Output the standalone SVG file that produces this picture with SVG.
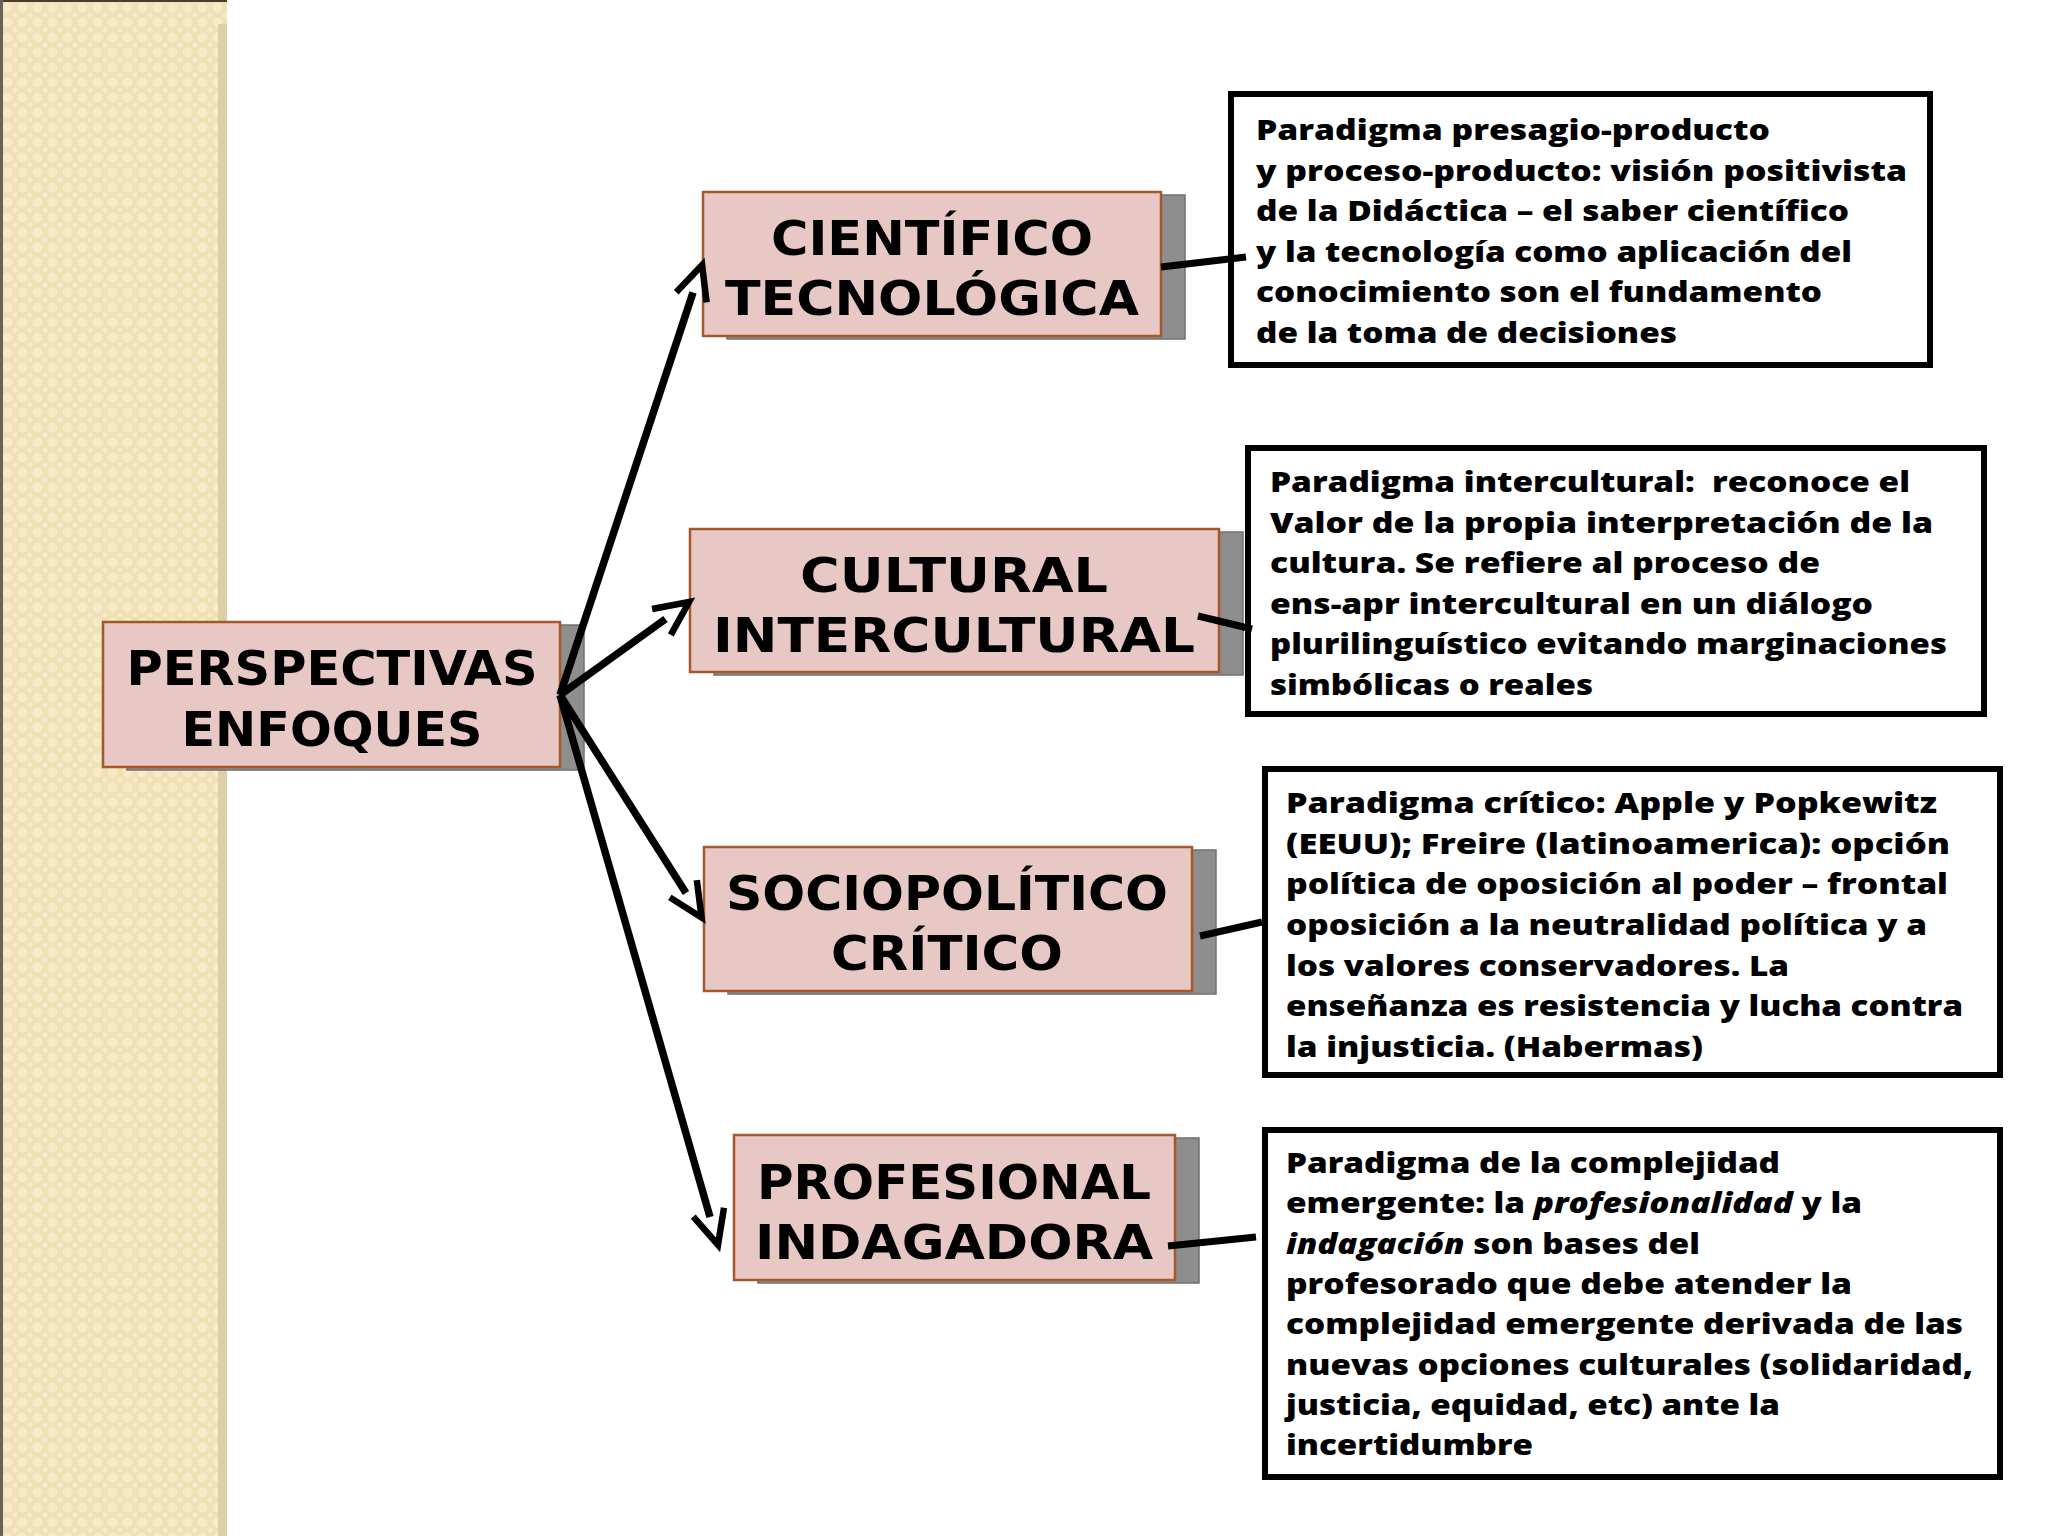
<svg xmlns="http://www.w3.org/2000/svg" width="2048" height="1536" viewBox="0 0 2048 1536">
  <style>
    .title { font-family: "DejaVu Sans", "Open Sans", sans-serif; font-weight: bold; font-size: 48px; fill: #000; text-anchor: middle; }
    .desc { font-family: "Open Sans", "Lato", sans-serif; font-weight: 800; font-size: 29px; fill: #000; }
    .box { fill: #e8c8c4; stroke: #a5582a; stroke-width: 2.5; }
    .shadow { fill: #8e8e8e; stroke: #707070; stroke-width: 1.5; }
    .dbox { fill: #ffffff; stroke: #000; stroke-width: 6; }
    .conn { stroke: #000; stroke-width: 7; fill: none; }
    .arrow { stroke: #000; stroke-width: 7.5; fill: none; marker-end: url(#openArrow); }
  </style>
  <defs>
    <pattern id="dots" width="15" height="15" patternUnits="userSpaceOnUse">
      <rect width="15" height="15" fill="#f0e1b5"/>
      <circle cx="7.5" cy="7.5" r="5" fill="#f6eac8"/>
      <circle cx="0" cy="0" r="2.5" fill="#f6eac8"/>
      <circle cx="15" cy="0" r="2.5" fill="#f6eac8"/>
      <circle cx="0" cy="15" r="2.5" fill="#f6eac8"/>
      <circle cx="15" cy="15" r="2.5" fill="#f6eac8"/>
    </pattern>
    <marker id="openArrow" markerUnits="userSpaceOnUse" orient="auto" refX="-29" refY="0" markerWidth="60" markerHeight="60" overflow="visible">
      <path d="M -34 -16 L 0 0 L -34 16" stroke="#000" stroke-width="6.5" fill="none" stroke-linejoin="miter"/>
    </marker>
  </defs>

  <rect x="0" y="0" width="2048" height="1536" fill="#ffffff"/>

  <g id="background-strip">
    <rect x="0" y="0" width="227" height="1536" fill="url(#dots)"/>
    <rect x="218" y="24" width="9" height="1512" fill="#dccfa8"/>
    <rect x="0" y="0" width="227" height="2" fill="#4a3c30"/>
    <rect x="0" y="0" width="3" height="1536" fill="#6a6258"/>
  </g>

  <g id="node-perspectivas">
    <rect class="shadow" x="127" y="625" width="457" height="145"/>
    <rect class="box" x="103" y="622" width="457" height="145"/>
    <text class="title" x="332" y="685" textLength="411" lengthAdjust="spacingAndGlyphs">PERSPECTIVAS</text>
    <text class="title" x="332" y="746" textLength="301" lengthAdjust="spacingAndGlyphs">ENFOQUES</text>
  </g>

  <g id="node-cientifico">
    <rect class="shadow" x="727" y="195" width="458" height="144"/>
    <rect class="box" x="703" y="192" width="458" height="144"/>
    <text class="title" x="932" y="255" textLength="322" lengthAdjust="spacingAndGlyphs">CIENTÍFICO</text>
    <text class="title" x="932" y="315" textLength="414" lengthAdjust="spacingAndGlyphs">TECNOLÓGICA</text>
  </g>

  <g id="node-cultural">
    <rect class="shadow" x="714" y="532" width="529" height="143"/>
    <rect class="box" x="690" y="529" width="529" height="143"/>
    <text class="title" x="954" y="591.5" textLength="308" lengthAdjust="spacingAndGlyphs">CULTURAL</text>
    <text class="title" x="954" y="651.5" textLength="482" lengthAdjust="spacingAndGlyphs">INTERCULTURAL</text>
  </g>

  <g id="node-sociopolitico">
    <rect class="shadow" x="728" y="850" width="488" height="144"/>
    <rect class="box" x="704" y="847" width="488" height="144"/>
    <text class="title" x="947" y="910" textLength="442" lengthAdjust="spacingAndGlyphs">SOCIOPOLÍTICO</text>
    <text class="title" x="947" y="970" textLength="232" lengthAdjust="spacingAndGlyphs">CRÍTICO</text>
  </g>

  <g id="node-profesional">
    <rect class="shadow" x="758" y="1138" width="441" height="145"/>
    <rect class="box" x="734" y="1135" width="441" height="145"/>
    <text class="title" x="954" y="1198.5" textLength="394" lengthAdjust="spacingAndGlyphs">PROFESIONAL</text>
    <text class="title" x="954" y="1258.5" textLength="398" lengthAdjust="spacingAndGlyphs">INDAGADORA</text>
  </g>

  <g id="desc-cientifico">
    <rect class="dbox" x="1231" y="94" width="699" height="271"/>
    <text class="desc" x="1256" y="140" textLength="514" lengthAdjust="spacingAndGlyphs">Paradigma presagio-producto</text>
    <text class="desc" x="1256" y="180.5" textLength="651" lengthAdjust="spacingAndGlyphs">y proceso-producto: visión positivista</text>
    <text class="desc" x="1256" y="221" textLength="593" lengthAdjust="spacingAndGlyphs">de la Didáctica – el saber científico</text>
    <text class="desc" x="1256" y="261.5" textLength="596" lengthAdjust="spacingAndGlyphs">y la tecnología como aplicación del</text>
    <text class="desc" x="1256" y="302" textLength="566" lengthAdjust="spacingAndGlyphs">conocimiento son el fundamento</text>
    <text class="desc" x="1256" y="342.5" textLength="421" lengthAdjust="spacingAndGlyphs">de la toma de decisiones</text>
  </g>

  <g id="desc-cultural">
    <rect class="dbox" x="1248" y="448" width="736" height="266"/>
    <text class="desc" x="1270" y="492" textLength="640" lengthAdjust="spacingAndGlyphs" xml:space="preserve">Paradigma intercultural:  reconoce el</text>
    <text class="desc" x="1270" y="532.6" textLength="663" lengthAdjust="spacingAndGlyphs">Valor de la propia interpretación de la</text>
    <text class="desc" x="1270" y="573.2" textLength="550" lengthAdjust="spacingAndGlyphs">cultura. Se refiere al proceso de</text>
    <text class="desc" x="1270" y="613.8" textLength="603" lengthAdjust="spacingAndGlyphs">ens-apr intercultural en un diálogo</text>
    <text class="desc" x="1270" y="654.4" textLength="677" lengthAdjust="spacingAndGlyphs">plurilinguístico evitando marginaciones</text>
    <text class="desc" x="1270" y="695" textLength="323" lengthAdjust="spacingAndGlyphs">simbólicas o reales</text>
  </g>

  <g id="desc-sociopolitico">
    <rect class="dbox" x="1265" y="769" width="735" height="306"/>
    <text class="desc" x="1286" y="813" textLength="651" lengthAdjust="spacingAndGlyphs">Paradigma crítico: Apple y Popkewitz</text>
    <text class="desc" x="1286" y="853.7" textLength="664" lengthAdjust="spacingAndGlyphs">(EEUU); Freire (latinoamerica): opción</text>
    <text class="desc" x="1286" y="894.3" textLength="662" lengthAdjust="spacingAndGlyphs">política de oposición al poder – frontal</text>
    <text class="desc" x="1286" y="935" textLength="641" lengthAdjust="spacingAndGlyphs">oposición a la neutralidad política y a</text>
    <text class="desc" x="1286" y="975.7" textLength="503" lengthAdjust="spacingAndGlyphs">los valores conservadores. La</text>
    <text class="desc" x="1286" y="1016.3" textLength="677" lengthAdjust="spacingAndGlyphs">enseñanza es resistencia y lucha contra</text>
    <text class="desc" x="1286" y="1057" textLength="417" lengthAdjust="spacingAndGlyphs">la injusticia. (Habermas)</text>
  </g>

  <g id="desc-profesional">
    <rect class="dbox" x="1265" y="1130" width="735" height="347"/>
    <text class="desc" x="1286" y="1173" textLength="494" lengthAdjust="spacingAndGlyphs">Paradigma de la complejidad</text>
    <text class="desc" x="1286" y="1213.3" textLength="576" lengthAdjust="spacingAndGlyphs">emergente: la <tspan font-style="italic">profesionalidad</tspan> y la</text>
    <text class="desc" x="1286" y="1253.6" textLength="414" lengthAdjust="spacingAndGlyphs"><tspan font-style="italic">indagación</tspan> son bases del</text>
    <text class="desc" x="1286" y="1293.9" textLength="566" lengthAdjust="spacingAndGlyphs">profesorado que debe atender la</text>
    <text class="desc" x="1286" y="1334.2" textLength="677" lengthAdjust="spacingAndGlyphs">complejidad emergente derivada de las</text>
    <text class="desc" x="1286" y="1374.5" textLength="687" lengthAdjust="spacingAndGlyphs">nuevas opciones culturales (solidaridad,</text>
    <text class="desc" x="1286" y="1414.8" textLength="494" lengthAdjust="spacingAndGlyphs">justicia, equidad, etc) ante la</text>
    <text class="desc" x="1286" y="1455.1" textLength="247" lengthAdjust="spacingAndGlyphs">incertidumbre</text>
  </g>

  <g id="connectors">
    <line class="arrow" x1="560" y1="695" x2="693" y2="292.5"/>
    <line class="arrow" x1="560" y1="695" x2="665.5" y2="619"/>
    <line class="arrow" x1="560" y1="695" x2="686" y2="893"/>
    <line class="arrow" x1="560" y1="695" x2="710" y2="1217"/>
    <line class="conn" x1="1161" y1="267" x2="1246" y2="257"/>
    <line class="conn" x1="1198" y1="616" x2="1252" y2="629"/>
    <line class="conn" x1="1200" y1="936" x2="1262" y2="922"/>
    <line class="conn" x1="1168" y1="1246" x2="1256" y2="1237"/>
  </g>
</svg>
